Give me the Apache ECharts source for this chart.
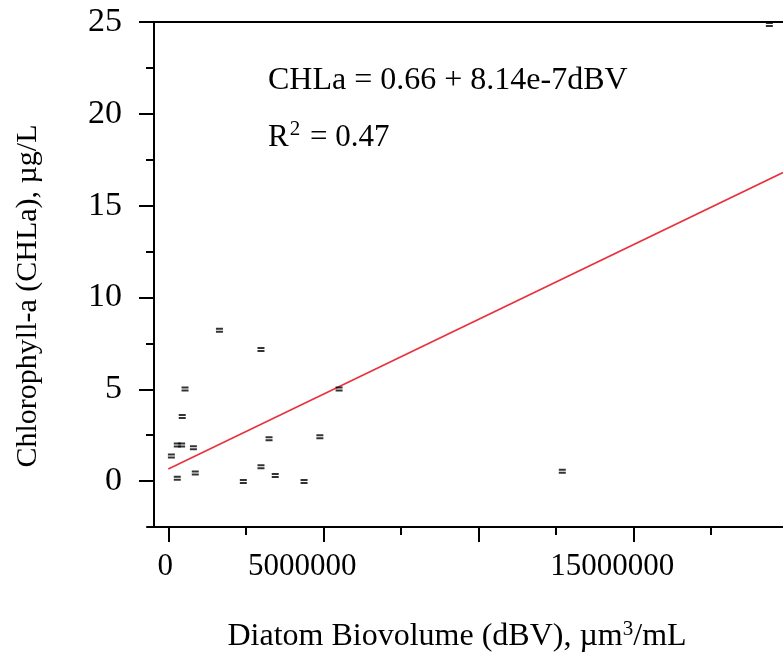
<!DOCTYPE html>
<html>
<head>
<meta charset="utf-8">
<script src="https://cdn.jsdelivr.net/npm/echarts@6/dist/echarts.min.js"></script>
<style>html,body{margin:0;padding:0;background:#fff}#c{width:783px;height:658px}</style>
</head>
<body>
<div id="c"></div>
<script>
// Data
const dbv  = [0.10e6, 0.29e6, 0.29e6, 0.43e6, 0.45e6, 0.54e6, 0.81e6, 0.87e6, 1.65e6, 2.42e6, 2.99e6, 2.99e6, 3.25e6, 3.45e6, 4.38e6, 4.89e6, 5.51e6, 12.71e6, 19.39e6];
const chla = [1.36, 0.15, 1.97, 1.97, 3.52, 5.02, 1.82, 0.44, 8.22, -0.02, 7.17, 0.78, 2.30, 0.31, -0.02, 2.41, 5.02, 0.54, 24.86];
const intercept = 0.66;
const slope = 8.14e-7;
const xMajorTicks = [0, 5000000, 10000000, 15000000];
const xMinorTicks = [2500000, 7500000, 12500000, 17500000];
const xLabelValues = [0, 5000000, 15000000];
const yMajorTicks = [0, 5, 10, 15, 20, 25];
const yMinorTicks = [2.5, 7.5, 12.5, 17.5, 22.5];
const equationText = 'CHLa = 0.66 + 8.14e-7dBV';
const r2Text = '{n|R}{sup|2}{n| = 0.47}';
const xTitle = '{n|Diatom Biovolume (dBV), µm}{sup|3}{n|/mL}';
const yTitle = 'Chlorophyll-a (CHLa), µg/L';

const X_MIN = -687000, X_MAX = 19830000, Y_MIN = -2.5, Y_MAX = 25;
const FONT = 'Liberation Serif';
const FS = 31;

const pts = dbv.map((x, i) => [x, chla[i]]);
const fitLine = [[0, intercept + slope * 0], [X_MAX, intercept + slope * X_MAX]];

const chart = echarts.init(document.getElementById('c'), null, {renderer: 'canvas'});
const axisLineStyle = {color: '#000', width: 2};
chart.setOption({
  animation: false,
  backgroundColor: '#fff',
  grid: {left: 147, top: 22, right: 0, bottom: 131, containLabel: false},
  xAxis: [
    {
      type: 'value', position: 'bottom', min: X_MIN, max: X_MAX,
      axisLine: {show: true, onZero: false, lineStyle: axisLineStyle},
      axisTick: {show: true, customValues: xMajorTicks, length: 15, lineStyle: {color: '#000', width: 2}},
      axisLabel: {
        show: true, customValues: xLabelValues, margin: 24,
        fontFamily: FONT, fontSize: FS, color: '#000',
        formatter: v => v === 0 ? '{a|0}' : '{b|' + v + '}',
        rich: {
          a: {fontFamily: FONT, fontSize: FS, color: '#000', padding: [0, 6, 0, 0]},
          b: {fontFamily: FONT, fontSize: FS, color: '#000', padding: [0, 42, 0, 0]}
        }
      },
      splitLine: {show: false}
    },
    {
      type: 'value', position: 'bottom', min: X_MIN, max: X_MAX,
      axisLine: {show: false, onZero: false},
      axisTick: {show: true, customValues: xMinorTicks, length: 8, lineStyle: {color: '#000', width: 2}},
      axisLabel: {show: false},
      splitLine: {show: false}
    },
    {
      type: 'value', position: 'top', min: X_MIN, max: X_MAX,
      axisLine: {show: true, onZero: false, lineStyle: axisLineStyle},
      axisTick: {show: false}, axisLabel: {show: false}, splitLine: {show: false}
    }
  ],
  yAxis: [
    {
      type: 'value', position: 'left', min: Y_MIN, max: Y_MAX, offset: -7,
      axisLine: {show: true, onZero: false, lineStyle: axisLineStyle},
      axisTick: {show: true, customValues: yMajorTicks, length: 15, lineStyle: {color: '#000', width: 2}},
      axisLabel: {show: true, customValues: yMajorTicks, margin: 32, fontFamily: FONT, fontSize: 34, color: '#000'},
      splitLine: {show: false}
    },
    {
      type: 'value', position: 'left', min: Y_MIN, max: Y_MAX, offset: -7,
      axisLine: {show: false, onZero: false},
      axisTick: {show: true, customValues: yMinorTicks, length: 8, lineStyle: {color: '#000', width: 2}},
      axisLabel: {show: false},
      splitLine: {show: false}
    }
  ],
  series: [
    {
      type: 'line', data: fitLine, xAxisIndex: 0, yAxisIndex: 0,
      showSymbol: false, symbol: 'none',
      lineStyle: {color: '#e8333f', width: 1.6}, silent: true, z: 2
    },
    {
      type: 'scatter', data: pts, xAxisIndex: 0, yAxisIndex: 0,
      symbol: 'path://M0,0H7V2H0Z M0,3H7V5H0Z', symbolSize: [7, 5],
      itemStyle: {color: '#000'}, z: 3
    }
  ],
  graphic: [
    {type: 'text', x: 268, y: 81, style: {text: equationText, font: '32px "' + FONT + '"', fill: '#000', align: 'left', verticalAlign: 'middle'}},
    {type: 'text', x: 268, y: 136, style: {
      text: r2Text, fill: '#000', align: 'left', verticalAlign: 'middle',
      rich: {
        n: {fontFamily: FONT, fontSize: 31, fill: '#000', lineHeight: 34, verticalAlign: 'bottom'},
        sup: {fontFamily: FONT, fontSize: 21, fill: '#000', lineHeight: 34, verticalAlign: 'top', padding: [0, 2, 0, 1]}
      }
    }},
    {type: 'text', x: 457, y: 636, style: {
      text: xTitle, fill: '#000', align: 'center', verticalAlign: 'middle',
      rich: {
        n: {fontFamily: FONT, fontSize: 32, fill: '#000', lineHeight: 34, verticalAlign: 'bottom'},
        sup: {fontFamily: FONT, fontSize: 21, fill: '#000', lineHeight: 34, verticalAlign: 'top'}
      }
    }},
    {type: 'text', x: 28, y: 296, rotation: Math.PI / 2, style: {text: yTitle, font: '30px "' + FONT + '"', fill: '#000', align: 'center', verticalAlign: 'middle'}}
  ]
});
</script>
</body>
</html>
